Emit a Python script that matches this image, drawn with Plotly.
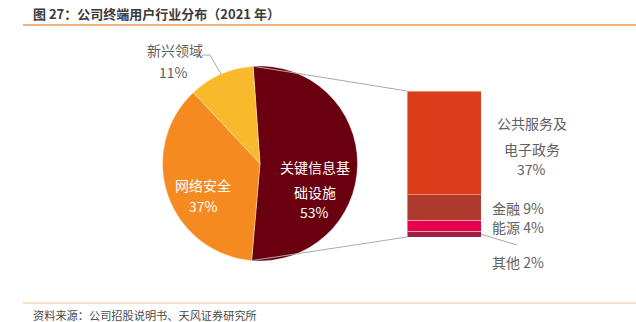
import math
import plotly.graph_objects as go

# ---------------- data ----------------
pie_labels = ["关键信息基础设施", "网络安全", "新兴领域"]
pie_values = [53, 37, 11]
pie_colors = ["#6A000F", "#F58A21", "#F9B92C"]

bar_labels = ["公共服务及电子政务", "金融", "能源", "其他"]
bar_values = [37, 9, 4, 2]
bar_colors = ["#DB3D1B", "#AE3A2D", "#E6004E", "#A21D3E"]

title_text = "图 27：公司终端用户行业分布（2021 年）"
source_text = "资料来源：公司招股说明书、天风证券研究所"

# ---------------- geometry (pixels) ----------------
W, H = 636, 322
FONT = "Noto Sans CJK SC"
cx, cy, r = 260.0, 163.5, 97.5
rotation = -4.0
bar_x0, bar_x1 = 407.0, 481.0
bar_top, bar_bot = 91.0, 237.0


def px(x):
    return x / W


def py(y):
    return 1 - y / H


def on_circle(angle_deg, rr=r):
    a = math.radians(angle_deg)
    return cx + rr * math.sin(a), cy - rr * math.cos(a)


total_pie = sum(pie_values)
bounds = [rotation]
for v in pie_values:
    bounds.append(bounds[-1] + 360.0 * v / total_pie)
mids = [(bounds[i] + bounds[i + 1]) / 2 for i in range(len(pie_values))]

fig = go.Figure()

fig.add_trace(go.Pie(
    labels=pie_labels, values=pie_values, sort=False, direction="clockwise",
    rotation=rotation, textinfo="none", hoverinfo="label+value",
    marker=dict(colors=pie_colors, line=dict(color="rgba(255,255,255,0.6)", width=0.6)),
    domain=dict(x=[px(cx - r), px(cx + r)], y=[py(cy + r), py(cy - r)]),
    showlegend=False,
))

# stacked bar, bottom to top
for lab, val, col in reversed(list(zip(bar_labels, bar_values, bar_colors))):
    fig.add_trace(go.Bar(
        x=[0], y=[val], name=lab, marker=dict(color=col, line=dict(color="rgba(255,200,200,0.55)", width=1)),
        width=1, showlegend=False, xaxis="x", yaxis="y",
    ))

total_bar = sum(bar_values)
fig.update_layout(
    barmode="stack",
    width=W, height=H,
    margin=dict(l=0, r=0, t=0, b=0),
    paper_bgcolor="white", plot_bgcolor="rgba(0,0,0,0)",
    xaxis=dict(domain=[px(bar_x0), px(bar_x1)], range=[-0.5, 0.5], visible=False, fixedrange=True),
    yaxis=dict(domain=[py(bar_bot), py(bar_top)], range=[0, total_bar], visible=False, fixedrange=True),
    font=dict(family=FONT),
)

unit = (bar_bot - bar_top) / total_bar  # px per value unit

shapes = []
line_gray = "#A9A9A9"


def seg(x0, y0, x1, y1, color=line_gray, w=1):
    shapes.append(dict(type="line", xref="paper", yref="paper",
                       x0=px(x0), y0=py(y0), x1=px(x1), y1=py(y1),
                       line=dict(color=color, width=w)))


# connectors from the pie's first slice to the bar
p_start = on_circle(bounds[0])
p_end = on_circle(bounds[1])
seg(p_start[0], p_start[1], bar_x0, bar_top)
seg(p_end[0], p_end[1], bar_x0, bar_bot)

# header / footer rules
seg(23, 25, W, 25, color="#E99A55", w=1.5)
seg(23, 303, W, 303, color="#F5C49A", w=1.2)

# leader for 新兴领域
q = on_circle(mids[2])
seg(203, 55, 210, 55)
seg(210, 55, q[0], q[1])

# leader for 其他
other_mid_y = bar_bot - bar_values[-1] / 2 * unit
seg(bar_x1, other_mid_y, 517, 245)

fig.update_layout(shapes=shapes)

ann = []


def text(x, y, s, color="#606060", size=14, anchor="center", bold=False):
    ann.append(dict(xref="paper", yref="paper", x=px(x), y=py(y), text=(f"<b>{s}</b>" if bold else s),
                    showarrow=False, xanchor=anchor, yanchor="middle",
                    font=dict(family=FONT, size=size, color=color)))


def pct(v):
    return f"{v}%"


# pie labels
text(314.5, 166.7, pie_labels[0][:5], color="white")
text(314.5, 191.7, pie_labels[0][5:], color="white")
text(314.5, 211.5, pct(pie_values[0]), color="white")
text(203, 184.5, pie_labels[1], color="white")
text(203, 205.5, pct(pie_values[1]), color="white")
text(174.5, 50, pie_labels[2])
text(173.5, 71.5, pct(pie_values[2]))

# bar labels
text(531.5, 123, bar_labels[0][:5])
text(531.5, 149, bar_labels[0][5:])
text(531.5, 169, pct(bar_values[0]))
fin_y = bar_bot - (bar_values[3] + bar_values[2] + bar_values[1] / 2) * unit
en_y = bar_bot - (bar_values[3] + bar_values[2] / 2) * unit
text(490, fin_y + 0.5, f"{bar_labels[1]} {pct(bar_values[1])}", anchor="left")
text(490, en_y + 1, f"{bar_labels[2]} {pct(bar_values[2])}", anchor="left")
text(490, 262, f"{bar_labels[3]} {pct(bar_values[3])}", anchor="left")

# title & source
text(31, 13, title_text, color="#3A3A3A", size=13, anchor="left", bold=True)
text(31, 315, source_text, color="#4A4A4A", size=11.2, anchor="left")

fig.update_layout(annotations=ann)

fig.write_html("out.html")
